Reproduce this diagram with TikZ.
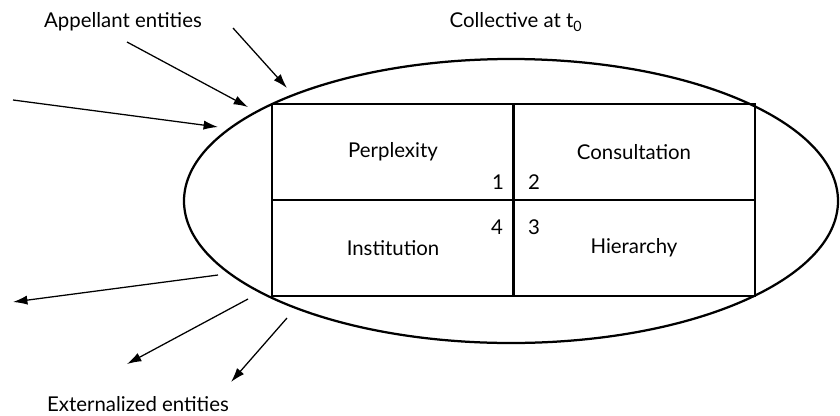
\documentclass[tikz,border=0pt]{standalone}
\usepackage{fontspec}
\setmainfont{Lato}
\usetikzlibrary{arrows.meta}

\tikzset{
  coll-ring/.style={draw=black, line width=1.6pt},
  coll-cell/.style={draw=black, line width=1pt, inner sep=0pt, minimum width=60.5mm, minimum height=24mm, font=\fontsize{14.5}{17}\selectfont},
  coll-num/.style={font=\fontsize{14.5}{17}\selectfont, inner sep=1pt},
  coll-label/.style={font=\fontsize{14.5}{17}\selectfont},
  coll-arrow/.style={-{Latex[length=3.6mm,width=2.3mm]}, line width=0.9pt},
}

\begin{document}
\begin{tikzpicture}[x=0.25mm, y=-0.25mm]
    \useasboundingbox (0,0) rectangle (840,415);

    % The collective
    \draw[coll-ring] (511,201) ellipse [x radius=327, y radius=142];

    % Nodes: the four cells
    \node[coll-cell] (perp) at (393,152) {Perplexity};
    \node[coll-cell] (cons) at (634,152) {Consultation};
    \node[coll-cell] (inst) at (393,248) {Institution};
    \node[coll-cell] (hier) at (634,248) {Hierarchy};

    % Numbers at the centre
    \node[coll-num] (n1) at (498,182) {1};
    \node[coll-num] (n2) at (534,182) {2};
    \node[coll-num] (n3) at (534,227) {3};
    \node[coll-num] (n4) at (497,227) {4};

    % Labels
    \node[coll-label] (appel) at (123,22) {Appellant entities};
    \node[coll-label] (title) at (516,22) {Collective at t\textsubscript{0}};
    \node[coll-label] (exter) at (138,404) {Externalized entities};

    % Arrow ends
    \coordinate (a1s) at (233,28);  \coordinate (a1e) at (287,88);
    \coordinate (a2s) at (127,42);  \coordinate (a2e) at (248,107);
    \coordinate (a3s) at (13,100);  \coordinate (a3e) at (218,127);
    \coordinate (b1s) at (218,275); \coordinate (b1e) at (13,302);
    \coordinate (b2s) at (248,299); \coordinate (b2e) at (127,364);
    \coordinate (b3s) at (287,318); \coordinate (b3e) at (231,382);

    % Edges: coming in
    \draw[coll-arrow] (a1s) -- (a1e);
    \draw[coll-arrow] (a2s) -- (a2e);
    \draw[coll-arrow] (a3s) -- (a3e);

    % Edges: going out
    \draw[coll-arrow] (b1s) -- (b1e);
    \draw[coll-arrow] (b2s) -- (b2e);
    \draw[coll-arrow] (b3s) -- (b3e);

\end{tikzpicture}
\end{document}
